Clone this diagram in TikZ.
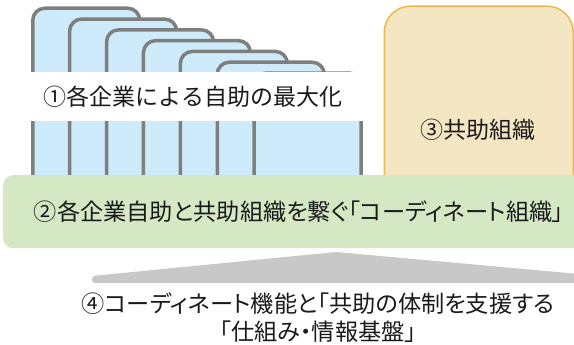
\documentclass[tikz,border=0pt]{standalone}
\usepackage{fontspec}
\newfontfamily\jp[RawFeature={+palt}]{Noto Sans CJK JP}
\newfontfamily\jpw{Noto Sans CJK JP}
\definecolor{cardblue}{HTML}{CDEBFA}
\definecolor{cardgray}{HTML}{7F7F7F}
\definecolor{orfill}{HTML}{F5E6C3}
\definecolor{ordraw}{HTML}{E8B94B}
\definecolor{grfill}{HTML}{D5E8C4}
\definecolor{wedgegray}{HTML}{C8C8C8}
\definecolor{textc}{HTML}{1A1A1A}
\begin{document}
\begin{tikzpicture}[x=1pt,y=-1pt,
  card/.style={draw=cardgray, line width=3.5pt, fill=cardblue, rounded corners=12pt, anchor=north west, inner sep=0pt, minimum width=107pt},
  band/.style={fill=white, draw=none, anchor=north west, inner sep=0pt},
  kyojo/.style={fill=orfill, draw=ordraw, line width=1.5pt, rounded corners=26pt, anchor=north west, inner sep=0pt},
  coord/.style={fill=grfill, draw=none, rounded corners=10pt, anchor=north west, inner sep=0pt},
  lbl/.style={font=\jp\fontsize{23.2}{28}\selectfont, text=textc, inner sep=0pt},
  lblw/.style={font=\jpw\fontsize{23}{27}\selectfont, text=textc, inner sep=0pt}]
\clip (0,0) rectangle (574,345);
\fill[white] (0,0) rectangle (574,345);
\foreach \i in {0,...,6}{
  \pgfmathsetmacro{\cx}{31+36.9*\i}
  \pgfmathsetmacro{\cy}{6.5+10.8*\i}
  \pgfmathsetmacro{\ch}{185-\cy}
  \node[card, minimum height=\ch pt] (c\i) at (\cx,\cy) {};
}
\node[band, minimum width=340pt, minimum height=49pt] (wb) at (28,72) {};
\node[kyojo, minimum width=189pt, minimum height=200pt] (kb) at (383.5,5.5) {};
\node[coord, minimum width=620pt, minimum height=73pt] (gb) at (3,175) {};
\fill[wedgegray, rounded corners=3pt] (92,283) -- (92,276) -- (336,252) -- (590,275) -- (590,283) -- cycle;
\node[lblw] (t1) at (193,97) {①各企業による自助の最大化};
\node[lblw] (t3) at (478,130) {③共助組織};
\node[lbl] (t2) at (299,212) {②各企業自助と共助組織を繋ぐ「コーディネート組織」};
\node[lbl, align=center] (t4) at (318,318) {④コーディネート機能と「共助の体制を支援する\\「仕組み・情報基盤」};
\end{tikzpicture}
\end{document}
